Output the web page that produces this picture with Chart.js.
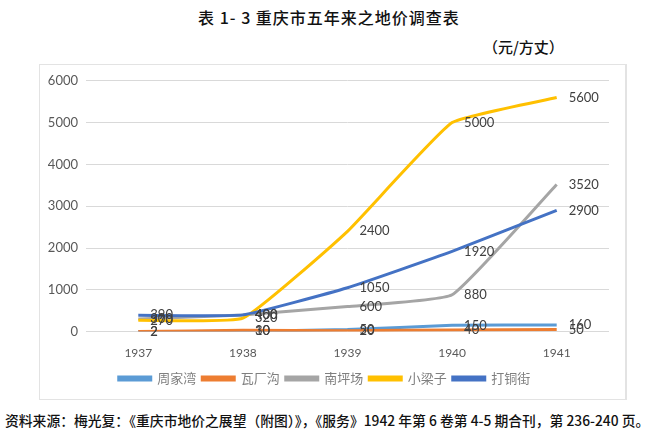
<!DOCTYPE html>
<html>
<head>
<meta charset="utf-8">
<script src="https://cdn.jsdelivr.net/npm/chart.js@4/dist/chart.umd.min.js"></script>
<style>
  body { margin: 0; width: 650px; height: 439px; background: #fff; font-family: "Noto Sans CJK SC", sans-serif; position: relative; overflow: hidden; }
  .title { position: absolute; top: 5px; left: 4px; width: 650px; text-align: center; font-size: 16px; letter-spacing: 1px; font-weight: 500; color: #111; }
  .unit { position: absolute; top: 36px; left: 483px; font-size: 15px; font-weight: 500; color: #111; }
  .box { position: absolute; left: 39px; top: 64px; width: 588px; height: 336px; border: 1px solid #e3e3e3; border-right-width: 2px; box-sizing: border-box; }
  .foot { position: absolute; top: 410px; left: 5px; font-size: 13.8px; font-weight: 500; color: #111; white-space: nowrap; }
</style>
</head>
<body>
<div class="title">表 1- 3 重庆市五年来之地价调查表</div>
<div class="unit">（元/方丈）</div>
<div class="box"><canvas id="chart" width="585" height="334"></canvas></div>
<div class="foot">资料来源：梅光复：《重庆市地价之展望（附图）》，《服务》1942 年第 6 卷第 4-5 期合刊，第 236-240 页。</div>
<script>
const years = ['1937', '1938', '1939', '1940', '1941'];
const seriesNames = ['周家湾', '瓦厂沟', '南坪场', '小梁子', '打铜街'];
const zhoujiawan = [2, 10, 50, 150, 160];
const wachanggou = [2, 30, 20, 40, 50];
const nanpingchang = [300, 400, 600, 880, 3520];
const xiaoliangzi = [270, 320, 2400, 5000, 5600];
const datongjie = [390, 400, 1050, 1920, 2900];
const yTicks = [0, 1000, 2000, 3000, 4000, 5000, 6000];
const colors = ['#5B9BD5', '#ED7D31', '#A5A5A5', '#FFC000', '#4472C4'];

const allSeries = [zhoujiawan, wachanggou, nanpingchang, xiaoliangzi, datongjie];

// draw value labels right of each point, like Excel
const valueLabels = {
    id: 'valueLabels',
    afterDatasetsDraw(chart) {
        const ctx = chart.ctx;
        ctx.save();
        ctx.font = '13px Lato, "Open Sans", sans-serif';
        ctx.fillStyle = '#404040';
        ctx.textBaseline = 'middle';
        ctx.textAlign = 'left';
        chart.data.datasets.forEach((ds, i) => {
            chart.getDatasetMeta(i).data.forEach((pt, j) => {
                ctx.fillText(String(ds.data[j]), pt.x + 12, pt.y);
            });
        });
        ctx.restore();
    }
};

new Chart(document.getElementById('chart'), {
    type: 'line',
    data: {
        labels: years,
        datasets: allSeries.map((d, i) => ({
            label: seriesNames[i],
            data: d,
            borderColor: colors[i],
            backgroundColor: colors[i],
            borderWidth: 3,
            pointRadius: 0,
            tension: 0.12,
            order: 5 - i
        }))
    },
    options: {
        responsive: false,
        animation: false,
        layout: { padding: { top: 6, right: 16, left: 0, bottom: 4 } },
        plugins: {
            legend: {
                position: 'bottom',
                labels: {
                    boxWidth: 32,
                    boxHeight: 3,
                    padding: 6,
                    color: '#7f7f7f',
                    sort: (a, b) => a.datasetIndex - b.datasetIndex,
                    font: { size: 13, family: '"Noto Sans CJK SC", sans-serif' }
                }
            },
            tooltip: { enabled: false }
        },
        scales: {
            x: {
                offset: true,
                grid: { display: false },
                border: { display: false },
                ticks: { color: '#595959', font: { size: 12, family: 'Lato, sans-serif' }, padding: 6 }
            },
            y: {
                min: 0,
                max: 6000,
                afterFit: (s) => { s.width = 46; },
                afterBuildTicks: (s) => { s.ticks = yTicks.map(v => ({ value: v })); },
                grid: { color: '#d9d9d9', drawTicks: false },
                border: { display: false },
                ticks: {
                    color: '#595959',
                    font: { size: 13, family: 'Lato, sans-serif' },
                    padding: 8,
                    callback: (v) => String(v)
                }
            }
        }
    },
    plugins: [valueLabels]
});
</script>
</body>
</html>
